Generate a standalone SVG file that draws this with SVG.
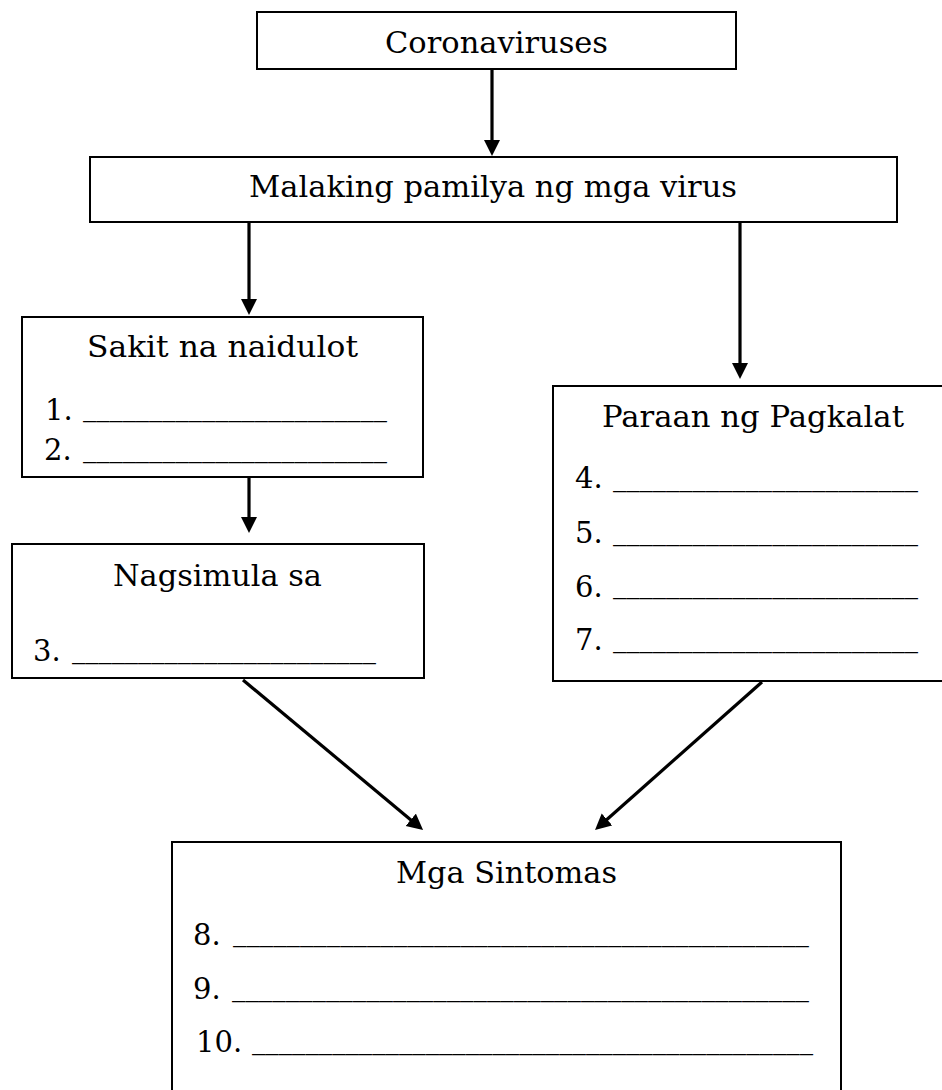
<svg xmlns="http://www.w3.org/2000/svg" width="942" height="1090" viewBox="0 0 942 1090">
<defs>
<style>
.box{fill:#fff;stroke:#000;stroke-width:2}
.t{font-family:"DejaVu Serif","Liberation Serif",serif;font-size:29px;fill:#000}
.u{font-family:"DejaVu Serif","Liberation Serif",serif;font-size:28px;fill:#000}
.c{stroke:#000;stroke-width:3.2;fill:none;marker-end:url(#ah)}
</style>
<marker id="ah" markerWidth="18" markerHeight="18" refX="8" refY="8" orient="auto" markerUnits="userSpaceOnUse">
<path d="M0,0 L16,8 L0,16 z" fill="#000"/>
</marker>
</defs>
<rect width="942" height="1090" fill="#fff"/>

<g id="connectors">
<line class="c" x1="492" y1="69" x2="492" y2="148"/>
<line class="c" x1="249" y1="223" x2="249" y2="307"/>
<line class="c" x1="740" y1="223" x2="740" y2="371"/>
<line class="c" x1="249" y1="478" x2="249" y2="525"/>
<line class="c" x1="243" y1="680" x2="416.9" y2="824.9"/>
<line class="c" x1="762" y1="682" x2="601" y2="824.7"/>
</g>

<g id="coronaviruses">
<rect class="box" x="257" y="12" width="479" height="57"/>
<text class="t" x="385" y="53" textLength="223" lengthAdjust="spacingAndGlyphs">Coronaviruses</text>
</g>

<g id="malaking">
<rect class="box" x="90" y="157" width="807" height="65"/>
<text class="t" x="249" y="197" textLength="488" lengthAdjust="spacingAndGlyphs">Malaking pamilya ng mga virus</text>
</g>

<g id="sakit">
<rect class="box" x="22" y="317" width="401" height="160"/>
<text class="t" x="87" y="357" textLength="271" lengthAdjust="spacingAndGlyphs">Sakit na naidulot</text>
<text class="t" x="45" y="420">1.</text>
<text class="u" x="83" y="416" textLength="304" lengthAdjust="spacingAndGlyphs">_______________________</text>
<text class="t" x="44" y="460">2.</text>
<text class="u" x="83" y="457" textLength="304" lengthAdjust="spacingAndGlyphs">_______________________</text>
</g>

<g id="nagsimula">
<rect class="box" x="12" y="544" width="412" height="134"/>
<text class="t" x="113" y="586" textLength="209" lengthAdjust="spacingAndGlyphs">Nagsimula sa</text>
<text class="t" x="33" y="661">3.</text>
<text class="u" x="72" y="658" textLength="304" lengthAdjust="spacingAndGlyphs">_______________________</text>
</g>

<g id="paraan">
<rect class="box" x="553" y="386" width="390" height="295"/>
<text class="t" x="602" y="427" textLength="302" lengthAdjust="spacingAndGlyphs">Paraan ng Pagkalat</text>
<text class="t" x="575" y="488">4.</text>
<text class="u" x="613" y="486" textLength="305" lengthAdjust="spacingAndGlyphs">_______________________</text>
<text class="t" x="575" y="543">5.</text>
<text class="u" x="613" y="540" textLength="305" lengthAdjust="spacingAndGlyphs">_______________________</text>
<text class="t" x="575" y="597">6.</text>
<text class="u" x="613" y="593" textLength="305" lengthAdjust="spacingAndGlyphs">_______________________</text>
<text class="t" x="575" y="650">7.</text>
<text class="u" x="613" y="647" textLength="305" lengthAdjust="spacingAndGlyphs">_______________________</text>
</g>

<g id="sintomas">
<rect class="box" x="172" y="842" width="669" height="260"/>
<text class="t" x="396" y="883" textLength="221" lengthAdjust="spacingAndGlyphs">Mga Sintomas</text>
<text class="t" x="193" y="945">8.</text>
<text class="u" x="233" y="941" textLength="576" lengthAdjust="spacingAndGlyphs">___________________________________________</text>
<text class="t" x="193" y="999">9.</text>
<text class="u" x="232" y="996" textLength="577" lengthAdjust="spacingAndGlyphs">___________________________________________</text>
<text class="t" x="196" y="1052">10.</text>
<text class="u" x="252" y="1049" textLength="561" lengthAdjust="spacingAndGlyphs">__________________________________________</text>
</g>
</svg>
